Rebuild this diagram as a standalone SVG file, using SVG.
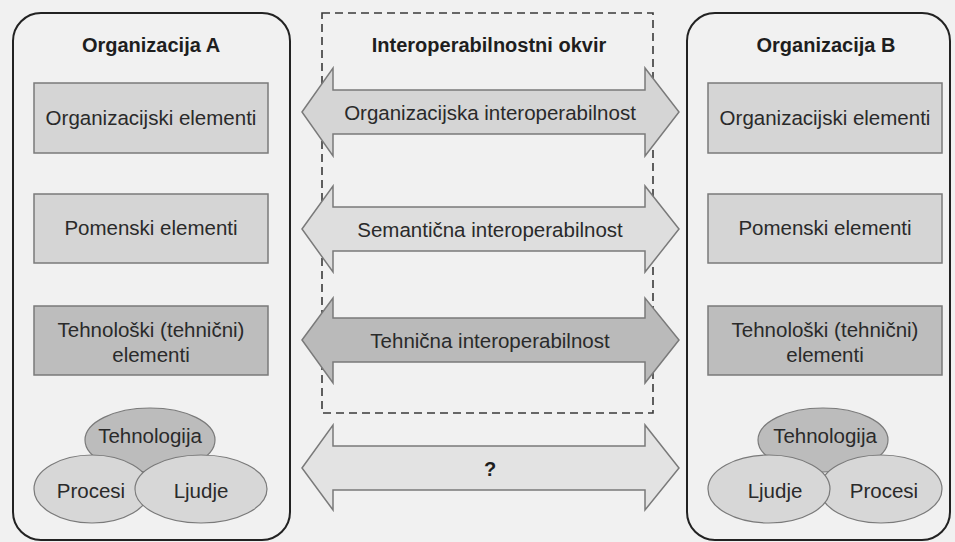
<svg xmlns="http://www.w3.org/2000/svg" width="955" height="542" viewBox="0 0 955 542">
<style>
text{font-family:"Liberation Sans",Arial,sans-serif;font-size:20.5px;fill:#2a2a2a;text-anchor:middle}
.title{font-weight:bold;font-size:20px;fill:#1e1e1e}
.org{fill:#f1f1f1;stroke:#222;stroke-width:2}
.box{fill:#d5d5d5;stroke:#7a7a7a;stroke-width:1.5}
.box.dark{fill:#bdbdbd}
.ell{fill:#d7d7d7;stroke:#7a7a7a;stroke-width:1.2}
.ell.dark{fill:#bcbcbc}
.arr{stroke:#7a7a7a;stroke-width:1.5;stroke-linejoin:miter}
.frame{fill:none;stroke:#3a3a3a;stroke-width:1.6;stroke-dasharray:8 5}
</style>
<rect width="955" height="542" fill="#f1f1f1"/>

<g id="orgA">
<rect class="org" x="13" y="13" width="277" height="527" rx="28"/>
<text class="title" x="151" y="52">Organizacija A</text>
</g>
<g id="orgA-org">
<rect class="box" x="34" y="83" width="234" height="70"/>
<text x="151" y="125">Organizacijski elementi</text>
</g>
<g id="orgA-pom">
<rect class="box" x="34" y="194" width="234" height="69"/>
<text x="151" y="235">Pomenski elementi</text>
</g>
<g id="orgA-teh">
<rect class="box dark" x="34" y="306" width="234" height="69"/>
<text x="151" y="337">Tehnološki (tehnični)</text>
<text x="151" y="362">elementi</text>
</g>
<g id="orgA-tehnologija">
<ellipse class="ell dark" cx="150" cy="440" rx="65" ry="32"/>
<text x="150" y="443">Tehnologija</text>
</g>
<g id="orgA-procesi">
<ellipse class="ell" cx="92" cy="489" rx="58" ry="34"/>
<text x="91" y="498">Procesi</text>
</g>
<g id="orgA-ljudje">
<ellipse class="ell" cx="201" cy="489" rx="66" ry="34"/>
<text x="201" y="498">Ljudje</text>
</g>

<g id="orgB">
<rect class="org" x="687" y="13" width="263" height="527" rx="28"/>
<text class="title" x="826" y="52">Organizacija B</text>
</g>
<g id="orgB-org">
<rect class="box" x="708" y="83" width="234" height="70"/>
<text x="825" y="125">Organizacijski elementi</text>
</g>
<g id="orgB-pom">
<rect class="box" x="708" y="194" width="234" height="69"/>
<text x="825" y="235">Pomenski elementi</text>
</g>
<g id="orgB-teh">
<rect class="box dark" x="708" y="306" width="234" height="69"/>
<text x="825" y="337">Tehnološki (tehnični)</text>
<text x="825" y="362">elementi</text>
</g>
<g id="orgB-tehnologija">
<ellipse class="ell dark" cx="823" cy="440" rx="65" ry="32"/>
<text x="825" y="443">Tehnologija</text>
</g>
<g id="orgB-procesi">
<ellipse class="ell" cx="881" cy="489" rx="61" ry="34"/>
<text x="884" y="498">Procesi</text>
</g>
<g id="orgB-ljudje">
<ellipse class="ell" cx="769" cy="489" rx="61" ry="34"/>
<text x="775" y="498">Ljudje</text>
</g>

<g id="framework">
<rect class="frame" x="322" y="13" width="331" height="400"/>
<text class="title" x="489" y="52">Interoperabilnostni okvir</text>
</g>

<g id="connectors">
<g id="arr-org">
<path class="arr" fill="#d5d5d5" d="M302,112 L333,68 L333,90 L645,90 L645,68 L679,112 L645,156 L645,134 L333,134 L333,156 Z"/>
<text x="490" y="120">Organizacijska interoperabilnost</text>
</g>
<g id="arr-sem">
<path class="arr" fill="#dedede" d="M302,229 L333,186 L333,207 L645,207 L645,186 L679,229 L645,272 L645,251 L333,251 L333,272 Z"/>
<text x="490" y="237">Semantična interoperabilnost</text>
</g>
<g id="arr-teh">
<path class="arr" fill="#bababa" d="M302,340 L333,298 L333,318 L645,318 L645,298 L679,340 L645,383 L645,362 L333,362 L333,383 Z"/>
<text x="490" y="348">Tehnična interoperabilnost</text>
</g>
<g id="arr-q">
<path class="arr" fill="#e3e3e3" d="M302,468 L333,425 L333,446 L645,446 L645,425 L679,468 L645,510 L645,490 L333,490 L333,510 Z"/>
<text class="title" x="490" y="476">?</text>
</g>
</g>
</svg>
